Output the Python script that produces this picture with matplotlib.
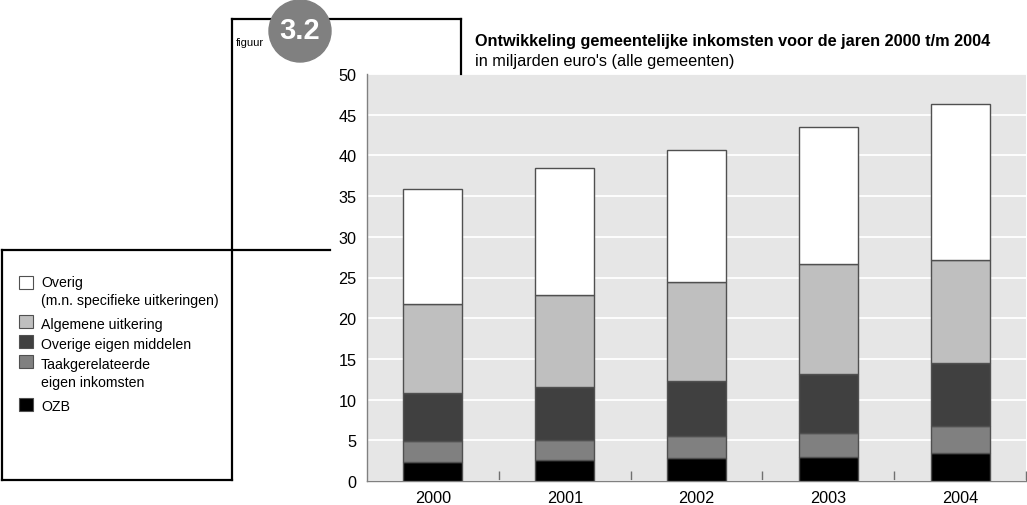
import matplotlib
matplotlib.use("Agg")
import matplotlib.pyplot as plt
from matplotlib.patches import Rectangle, Circle
from matplotlib.lines import Line2D

plt.rcParams['font.family'] = ['Liberation Sans', 'DejaVu Sans']

# ---- data ----
years = ['2000', '2001', '2002', '2003', '2004']
ozb = [2.33, 2.57, 2.78, 2.94, 3.43]
taak = [2.54, 2.49, 2.70, 2.98, 3.35]
overige_eigen = [5.93, 6.44, 6.77, 7.28, 7.68]
algemene = [10.90, 11.40, 12.15, 13.50, 12.74]
overig = [14.20, 15.50, 16.30, 16.80, 19.10]

series = [
    ('OZB', ozb, '#000000'),
    ('Taakgerelateerde\neigen inkomsten', taak, '#808080'),
    ('Overige eigen middelen', overige_eigen, '#404040'),
    ('Algemene uitkering', algemene, '#bfbfbf'),
    ('Overig\n(m.n. specifieke uitkeringen)', overig, '#ffffff'),
]

title = 'Ontwikkeling gemeentelijke inkomsten voor de jaren 2000 t/m 2004'
subtitle = "in miljarden euro's (alle gemeenten)"

W, H = 1027, 506
fig = plt.figure(figsize=(W / 100, H / 100), dpi=100)

# overlay in pixel coordinates for decoration
ov = fig.add_axes([0, 0, 1, 1], zorder=5)
ov.set_xlim(0, W)
ov.set_ylim(H, 0)
ov.axis('off')
ov.patch.set_alpha(0)

# main axes
left, top, right, bottom = 367, 75, 1026, 482
ax = fig.add_axes([left / W, (H - bottom) / H, (right - left) / W, (bottom - top) / H])
ax.set_facecolor('#e6e6e6')
ax.set_xlim(-0.5, len(years) - 0.5)
ax.set_ylim(0, 50)
ax.set_yticks(range(0, 51, 5))
ax.yaxis.grid(True, color='white', linewidth=1.3)
ax.set_axisbelow(True)
for s in ['top', 'right']:
    ax.spines[s].set_visible(False)
for s in ['left', 'bottom']:
    ax.spines[s].set_color('#808080')
    ax.spines[s].set_linewidth(1.0)
ax.tick_params(axis='y', length=0, pad=7.5, labelsize=11.7)
ax.tick_params(axis='x', length=0, pad=6.5, labelsize=11.7)
ax.set_xticks(range(len(years)))
ax.set_xticklabels(years)
ax.set_xticks([i + 0.5 for i in range(len(years))], minor=True)
ax.tick_params(axis='x', which='minor', direction='in', length=7, color='#707070', width=1)

x = list(range(len(years)))
base = [0.0] * len(years)
for name, vals, col in series:
    ax.bar(x, vals, width=0.448, bottom=base, color=col, edgecolor='#505050', linewidth=1.0, zorder=3)
    base = [b + v for b, v in zip(base, vals)]

# decorative frame lines
lc = 'black'
lw = 1.6
ov.add_line(Line2D([232, 461], [20, 20], color=lc, lw=lw))
ov.add_line(Line2D([461, 461], [20, 75], color=lc, lw=lw))
ov.add_line(Line2D([232, 232], [20, 481], color=lc, lw=lw))
ov.add_line(Line2D([2, 330], [251, 251], color=lc, lw=lw))
ov.add_line(Line2D([2, 2], [251, 481], color=lc, lw=lw))
ov.add_line(Line2D([2, 232], [481, 481], color=lc, lw=lw))

# badge
ov.add_patch(Circle((300, 32), 31, color='#808080', zorder=6))
ov.text(300, 31, '3.2', color='white', fontsize=21, fontweight='bold',
        family='Liberation Sans', ha='center', va='center', zorder=7)
ov.text(236, 43, 'figuur', fontsize=8, ha='left', va='center')

# titles
ov.text(475, 41, title, fontsize=11.7, fontweight='bold', ha='left', va='center')
ov.text(475, 61, subtitle, fontsize=11.7, ha='left', va='center')

# legend (manual, top to bottom)
legend_rows = [
    (series[4], 277, [283, 301]),
    (series[3], 316, [325]),
    (series[2], 336, [345]),
    (series[1], 356, [365, 383]),
    (series[0], 399, [407]),
]
for (name, vals, col), ysq, ylines in legend_rows:
    ov.add_patch(Rectangle((19, ysq), 14, 13, facecolor=col, edgecolor='#505050', lw=0.8, zorder=6))
    for line, yl in zip(name.split('\n'), ylines):
        ov.text(41, yl, line, fontsize=10.2, ha='left', va='center')

fig.savefig('out.png', dpi=100)
